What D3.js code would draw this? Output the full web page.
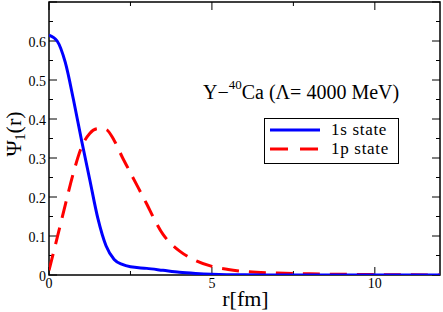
<!DOCTYPE html>
<html><head><meta charset="utf-8">
<script src="https://cdn.jsdelivr.net/npm/d3@7"></script>
<style>body{margin:0;background:#fff}svg{display:block}</style>
</head><body><svg id="c" width="443" height="312"></svg>
<script>
const r1s = [0,0.25,0.5,0.75,1.0,1.25,1.5,1.75,2.0,2.25,2.5,3.0,3.5,4.0,4.5,5.0,6.0,8.0,10.0,12.0];
const psi1s = [0.615,0.600,0.545,0.450,0.345,0.245,0.145,0.075,0.040,0.027,0.021,0.017,0.012,0.007,0.004,0.002,0.0005,0,0,0];
const r1p = [0,0.25,0.5,0.75,1.0,1.25,1.5,1.75,2.0,2.25,2.5,2.75,3.0,3.25,3.5,3.75,4.0,4.5,5.0,5.5,6.0,7.0,8.0,10.0,12.0];
const psi1p = [0.012,0.095,0.18,0.262,0.328,0.363,0.375,0.373,0.345,0.302,0.262,0.222,0.182,0.14,0.104,0.08,0.062,0.037,0.022,0.014,0.009,0.005,0.003,0.001,0.0];
const xTicks = [0,5,10];
const yTicks = [0,0.1,0.2,0.3,0.4,0.5,0.6];
const yTickLabels = ["0","0.1","0.2","0.3","0.4","0.5","0.6"];
const seriesNames = ["1s state","1p state"];

const FONT = "Liberation Serif";
const svg = d3.select("#c");
const L=49,R=440,T=2,B=275;
const x = d3.scaleLinear().domain([0,12]).range([L,R]);
const y = d3.scaleLinear().domain([0,0.7]).range([B,T]);

const g = svg.append("g");
const txt = (xx,yy,size,anchor)=>g.append("text").attr("x",xx).attr("y",yy).attr("font-size",size).attr("text-anchor",anchor||"start").style("font-family",FONT).attr("fill","#000");

g.append("rect").attr("x",L).attr("y",T).attr("width",R-L).attr("height",B-T)
 .attr("fill","none").attr("stroke","#000").attr("stroke-width",1.5);

const xMajor=[0,5,10], xMinor=[2.5,7.5];
const yMajor=d3.range(0,0.71,0.1), yMinor=d3.range(0.05,0.7,0.1);
const tk = (x1,y1,x2,y2)=>g.append("line").attr("x1",x1).attr("y1",y1).attr("x2",x2).attr("y2",y2).attr("stroke","#000").attr("stroke-width",1);
xMajor.forEach(v=>{tk(x(v),B,x(v),B-8);tk(x(v),T,x(v),T+8);});
xMinor.forEach(v=>{tk(x(v),B,x(v),B-4);tk(x(v),T,x(v),T+4);});
yMajor.forEach(v=>{tk(L,y(v),L+8,y(v));tk(R,y(v),R-8,y(v));});
yMinor.forEach(v=>{tk(L,y(v),L+4,y(v));tk(R,y(v),R-4,y(v));});

xTicks.forEach(v=>txt(x(v),B+13,14,"middle").text(v));
yTicks.forEach((v,i)=>txt(L-3,y(v)+5.5,14,"end").text(yTickLabels[i]));

txt((L+R)/2+1,306,22,"middle").text("r[fm]");
const yl = g.append("text").attr("transform","translate(21,134) rotate(-90)").attr("text-anchor","middle").attr("font-size",22).style("font-family",FONT);
yl.append("tspan").text("Ψ");
yl.append("tspan").attr("font-size",14).attr("dy",4).text("1");
yl.append("tspan").attr("dy",-4).text("(r)");

svg.append("clipPath").attr("id","clp").append("rect").attr("x",L).attr("y",T).attr("width",R-L).attr("height",B-T);
const line = d3.line().curve(d3.curveMonotoneX);
g.append("path").attr("clip-path","url(#clp)")
 .attr("d",line(r1p.map((v,i)=>[x(v),y(psi1p[i])])))
 .attr("fill","none").attr("stroke","#ff0000").attr("stroke-width",3).attr("stroke-dasharray","17,10");
g.append("path").attr("clip-path","url(#clp)")
 .attr("d",line(r1s.map((v,i)=>[x(v),y(psi1s[i])])))
 .attr("fill","none").attr("stroke","#0000ff").attr("stroke-width",3);

const t = txt(203,99,20);
t.append("tspan").text("Y−");
t.append("tspan").attr("font-size",13).attr("dy",-10).text("40");
t.append("tspan").attr("dy",10).text("Ca (Λ= 4000 MeV)");

g.append("rect").attr("x",264.5).attr("y",118.5).attr("width",134).attr("height",45).attr("fill","#fff").attr("stroke","#000").attr("stroke-width",1);
g.append("line").attr("x1",270).attr("x2",320).attr("y1",130).attr("y2",130).attr("stroke","#0000ff").attr("stroke-width",3);
g.append("line").attr("x1",270).attr("x2",320).attr("y1",149).attr("y2",149).attr("stroke","#ff0000").attr("stroke-width",3).attr("stroke-dasharray","18,12");
txt(331,135,17).style("letter-spacing","0.7px").text(seriesNames[0]);
txt(331,154,17).style("letter-spacing","0.7px").text(seriesNames[1]);
</script></body></html>
